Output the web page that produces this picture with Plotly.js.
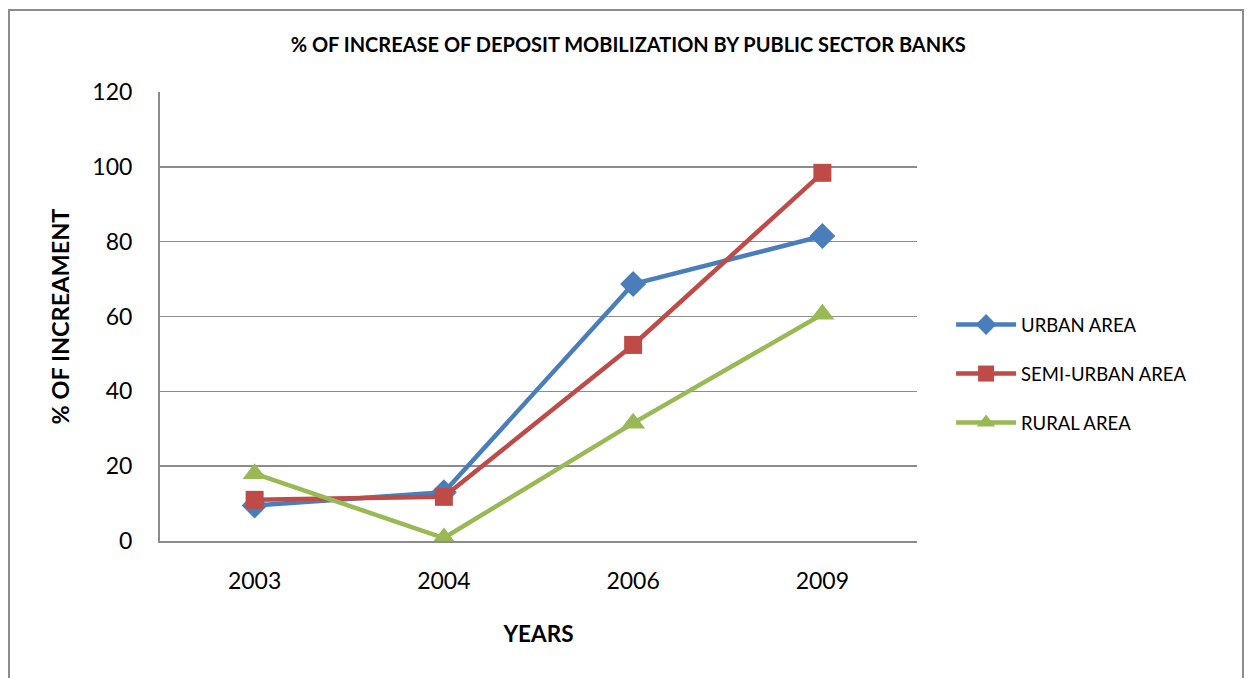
<!DOCTYPE html>
<html>
<head>
<meta charset="utf-8">
<script src="https://cdn.plot.ly/plotly-3.0.1.min.js"></script>
<style>
html,body{margin:0;padding:0;background:#fff;}
#wrap{position:relative;width:1249px;height:678px;overflow:hidden;}
#chart{position:absolute;left:0;top:0;width:1249px;height:678px;}
#frame{position:absolute;left:8px;top:9px;width:1236px;height:700px;border:2px solid #8c8c8c;box-sizing:border-box;pointer-events:none;}
</style>
</head>
<body>
<div id="wrap"><div id="chart"></div><div id="frame"></div></div>
<script>
const years = ['2003', '2004', '2006', '2009'];
const urbanArea = [9.5, 13, 68.7, 81.5];
const semiUrbanArea = [11, 11.8, 52.4, 98.4];
const ruralArea = [18, 0.8, 31.5, 60.6];
const yTicks = [0, 20, 40, 60, 80, 100, 120];

const FONT = 'Lato, "Open Sans", sans-serif';

const traces = [
  {name: 'URBAN AREA', y: urbanArea, color: '#4a7ebb', symbol: 'diamond', size: 20, g: 'a'},
  {name: 'SEMI-URBAN AREA', y: semiUrbanArea, color: '#be4b48', symbol: 'square', size: 18, g: 'b'},
  {name: 'RURAL AREA', y: ruralArea, color: '#98b954', symbol: 'triangle-up', size: 21, g: 'c'}
].map(t => ({
  type: 'scatter', mode: 'lines+markers', name: t.name, x: years, y: t.y,
  legendgroup: t.g,
  line: {color: t.color, width: 4.5},
  marker: {color: t.color, symbol: t.symbol, size: t.size}
}));

const layout = {
  width: 1249, height: 678,
  margin: {l: 160, r: 332, t: 92, b: 137},
  paper_bgcolor: '#fff', plot_bgcolor: '#fff',
  font: {family: FONT, color: '#000', size: 20},
  title: {text: '<b>% OF INCREASE OF DEPOSIT MOBILIZATION BY PUBLIC SECTOR BANKS</b>',
    font: {family: FONT, size: 20, color: '#000'}, x: 0.503, xref: 'container', xanchor: 'center', y: 0.933, yanchor: 'middle'},
  xaxis: {
    type: 'category', range: [-0.5, 3.5], showgrid: false, zeroline: false,
    showline: true, linecolor: '#8c8c8c', linewidth: 2,
    ticks: '', tickfont: {size: 23, family: FONT, color: '#000'}, ticklabelstandoff: 18,
    title: {text: '<b>YEARS</b>', font: {size: 22.5, family: FONT, color: '#000'}, standoff: 34}
  },
  yaxis: {
    range: [0, 120], tickvals: yTicks, showgrid: true, gridcolor: '#8c8c8c', gridwidth: 1.5,
    zeroline: false, showline: true, linecolor: '#8c8c8c', linewidth: 2,
    ticks: '', tickfont: {size: 23, family: FONT, color: '#000'}, ticklabelstandoff: 21,
    title: {text: '<b>% OF INCREAMENT</b>', font: {size: 23.5, family: FONT, color: '#000'}, standoff: 16}
  },
  legend: {x: 1.045, xanchor: 'left', y: 0.372, yanchor: 'middle', traceorder: 'grouped',
    tracegroupgap: 22, font: {size: 18.5, family: FONT, color: '#000'}, itemwidth: 60, bgcolor: 'rgba(0,0,0,0)'},
  showlegend: true
};

Plotly.newPlot('chart', traces, layout, {displayModeBar: false, staticPlot: true});
</script>
</body>
</html>
